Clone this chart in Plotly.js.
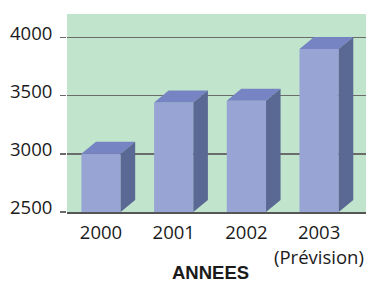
<!DOCTYPE html>
<html>
<head>
<meta charset="utf-8">
<script src="https://cdn.plot.ly/plotly-3.0.1.min.js"></script>
<style>html,body{margin:0;padding:0;background:#fff;}#chart{width:366px;height:282px;}</style>
</head>
<body>
<div id="chart"></div>
<script>
// Data
var categories = ["2000", "2001", "2002", "2003"];
var notes = ["", "", "", "(Prévision)"];
var values = [3000, 3440, 3455, 3900];
var yTicks = [2500, 3000, 3500, 4000];
var axisTitle = "ANNEES";

// 3D look parameters (in axis units)
var base = 2500;
var halfW = 0.27;
var depthX = 0.2;
var depthY = 103;

var xs = categories.map(function (c, i) { return i; });

var topX = [], topY = [], sideX = [], sideY = [];
xs.forEach(function (x, i) {
  var v = values[i];
  topX.push(x - halfW, x + halfW, x + halfW + depthX, x - halfW + depthX, x - halfW, null);
  topY.push(v, v, v + depthY, v + depthY, v, null);
  sideX.push(x + halfW, x + halfW + depthX, x + halfW + depthX, x + halfW, x + halfW, null);
  sideY.push(base, base + depthY, v + depthY, v, base, null);
});

var traces = [
  {
    type: "bar", x: xs, y: values.map(function (v) { return v - base; }), base: base,
    width: 2 * halfW, marker: {color: "#98a4d4", line: {width: 0}},
    hoverinfo: "skip", showlegend: false
  },
  {
    type: "scatter", mode: "lines", x: topX, y: topY, fill: "toself",
    fillcolor: "#7684c4", line: {width: 0, color: "#7684c4"},
    hoverinfo: "skip", showlegend: false
  },
  {
    type: "scatter", mode: "lines", x: sideX, y: sideY, fill: "toself",
    fillcolor: "#5a6994", line: {width: 0, color: "#5a6994"},
    hoverinfo: "skip", showlegend: false
  }
];

var tickFont = {family: "Open Sans, sans-serif", size: 18.5, color: "#1a1a1a"};

var annotations = [{
  text: "<b>" + axisTitle + "</b>", xref: "paper", yref: "paper",
  x: 0.4816, y: -0.305, xanchor: "center", yanchor: "middle", showarrow: false,
  font: {family: "Liberation Sans, Arial, sans-serif", size: 18.5, color: "#1a1a1a"}
}];
notes.forEach(function (n, i) {
  if (n) {
    annotations.push({
      text: n, xref: "x", yref: "paper", x: xs[i], y: -0.224,
      xanchor: "center", yanchor: "middle", showarrow: false, font: tickFont
    });
  }
});

var layout = {
  width: 366, height: 282,
  margin: {l: 67, r: 0, t: 14, b: 70},
  paper_bgcolor: "#ffffff",
  plot_bgcolor: "#c1e4cd",
  font: tickFont,
  xaxis: {
    range: [-0.468, 3.645],
    tickmode: "array", tickvals: xs, ticktext: categories,
    showgrid: false, zeroline: false,
    showline: true, linecolor: "#555", linewidth: 1.5,
    ticks: "", fixedrange: true,
    ticklabelstandoff: 3,
    tickfont: tickFont
  },
  yaxis: {
    range: [2500, 4200],
    tickmode: "array", tickvals: yTicks, ticktext: yTicks.map(String),
    showgrid: true, gridcolor: "#6b6b6b", gridwidth: 1.5,
    zeroline: false, showline: false,
    ticks: "outside", ticklen: 6, tickcolor: "#6b6b6b", tickwidth: 1.5,
    ticklabelshift: -4, ticklabelstandoff: 4,
    tickfont: tickFont
  },
  annotations: annotations
};

Plotly.newPlot("chart", traces, layout, {displayModeBar: false, staticPlot: true});
</script>
</body>
</html>
